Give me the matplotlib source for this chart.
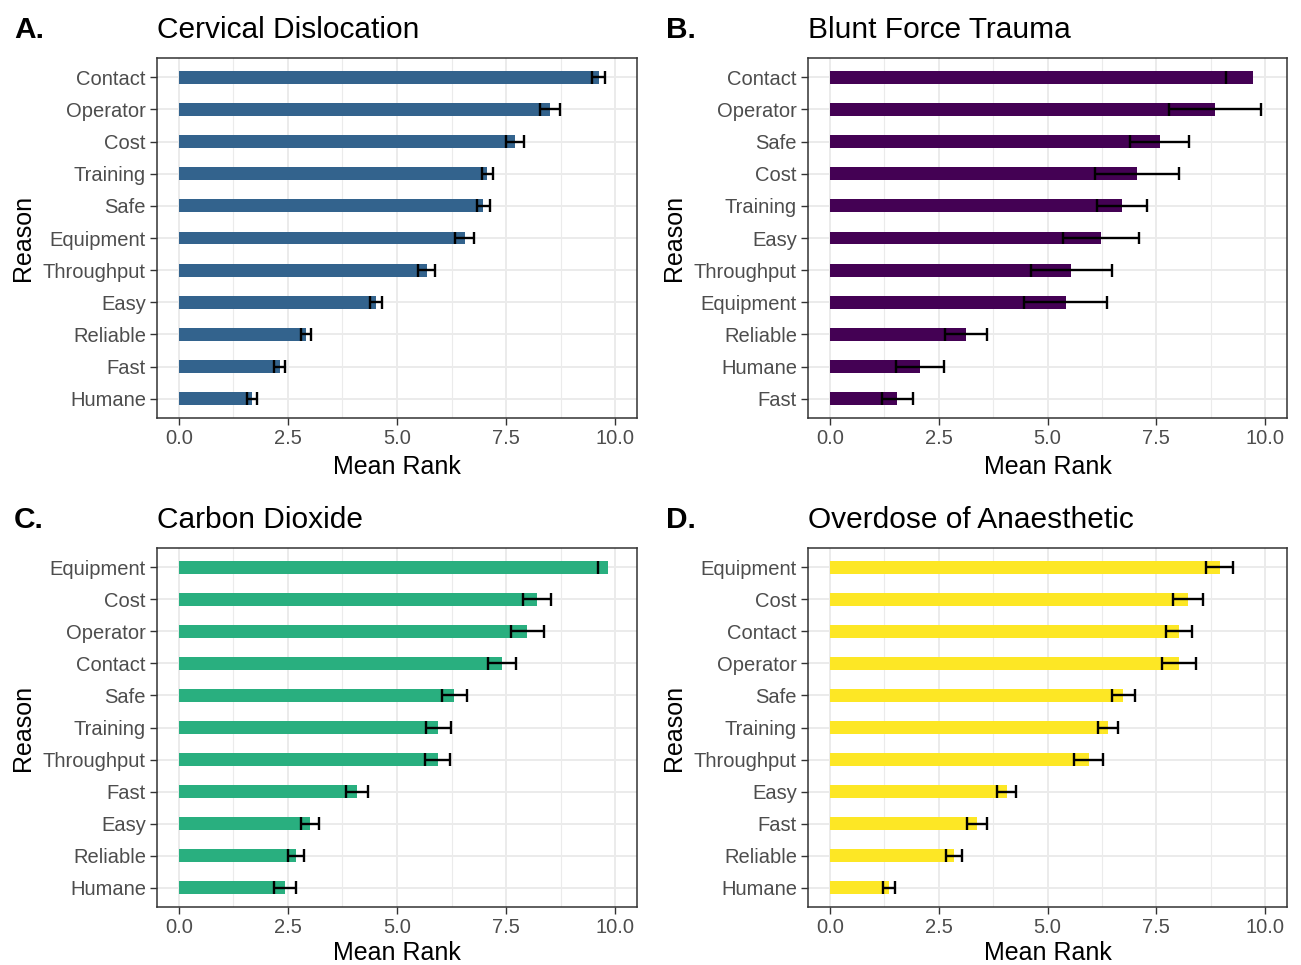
import matplotlib
matplotlib.use("Agg")
import matplotlib.pyplot as plt
import numpy as np

plt.rcParams['font.family'] = ['Liberation Sans', 'DejaVu Sans']

# panel A - cervical dislocation (top to bottom)
cd_reasons = ["Contact", "Operator", "Cost", "Training", "Safe", "Equipment",
              "Throughput", "Easy", "Reliable", "Fast", "Humane"]
cd_mean = [9.62, 8.50, 7.71, 7.07, 6.98, 6.55, 5.68, 4.52, 2.92, 2.31, 1.68]
cd_se = [0.14, 0.23, 0.21, 0.13, 0.15, 0.22, 0.19, 0.13, 0.11, 0.12, 0.12]

# panel B - blunt force trauma
bft_reasons = ["Contact", "Operator", "Safe", "Cost", "Training", "Easy",
               "Throughput", "Equipment", "Reliable", "Humane", "Fast"]
bft_mean = [9.71, 8.85, 7.58, 7.06, 6.71, 6.23, 5.55, 5.42, 3.12, 2.08, 1.55]
bft_se = [0.62, 1.05, 0.68, 0.96, 0.58, 0.88, 0.94, 0.95, 0.48, 0.55, 0.36]

# panel C - carbon dioxide
co2_reasons = ["Equipment", "Cost", "Operator", "Contact", "Safe", "Training",
               "Throughput", "Fast", "Easy", "Reliable", "Humane"]
co2_mean = [9.83, 8.21, 7.99, 7.41, 6.31, 5.95, 5.93, 4.08, 3.01, 2.69, 2.43]
co2_se = [0.23, 0.32, 0.37, 0.32, 0.29, 0.28, 0.29, 0.26, 0.21, 0.18, 0.26]

# panel D - overdose of anaesthetic
oa_reasons = ["Equipment", "Cost", "Contact", "Operator", "Safe", "Training",
              "Throughput", "Easy", "Fast", "Reliable", "Humane"]
oa_mean = [8.95, 8.23, 8.02, 8.01, 6.74, 6.38, 5.95, 4.06, 3.38, 2.86, 1.36]
oa_se = [0.30, 0.35, 0.30, 0.39, 0.27, 0.23, 0.33, 0.22, 0.22, 0.18, 0.13]

panels = [
    ("A.", "Cervical Dislocation", cd_reasons, cd_mean, cd_se, "#33638D"),
    ("B.", "Blunt Force Trauma", bft_reasons, bft_mean, bft_se, "#440154"),
    ("C.", "Carbon Dioxide", co2_reasons, co2_mean, co2_se, "#29AF7F"),
    ("D.", "Overdose of Anaesthetic", oa_reasons, oa_mean, oa_se, "#FDE725"),
]

W, H = 1301, 965
fig = plt.figure(figsize=(W / 100, H / 100), dpi=100)

# axes boxes in pixels: left, top, right, bottom
boxes = [(157, 58, 637, 418), (808, 58, 1287, 418),
         (157, 548, 637, 907), (808, 548, 1287, 907)]

for (tag, title, reasons, mean, se, color), (l, t, r, b) in zip(panels, boxes):
    ax = fig.add_axes([l / W, 1 - b / H, (r - l) / W, (b - t) / H])
    n = len(reasons)
    y = np.arange(n)[::-1] + 1
    mean = np.array(mean)
    se = np.array(se)
    lo = mean - se
    hi = mean + se

    ax.barh(y, mean, height=0.4, color=color, zorder=2)
    # upper ends past 10 fall outside the scale, only the lower cap is left
    ok = hi <= 10
    ax.hlines(y[ok], lo[ok], hi[ok], color="black", lw=1.7, zorder=3)
    ax.vlines(lo, y - 0.2, y + 0.2, color="black", lw=1.7, zorder=3)
    ax.vlines(hi[ok], y[ok] - 0.2, y[ok] + 0.2, color="black", lw=1.7, zorder=3)

    ax.set_xlim(-0.5, 10.5)
    ax.set_ylim(0.4, n + 0.6)
    ax.set_xticks([0, 2.5, 5, 7.5, 10])
    ax.set_xticklabels(["0.0", "2.5", "5.0", "7.5", "10.0"])
    ax.set_xticks([1.25, 3.75, 6.25, 8.75], minor=True)
    ax.set_yticks(y)
    ax.set_yticklabels(reasons)
    ax.grid(which="major", color="#EBEBEB", lw=1.4, zorder=0)
    ax.grid(which="minor", axis="x", color="#EBEBEB", lw=0.8, zorder=0)
    ax.set_axisbelow(True)
    ax.tick_params(which="major", length=5, width=1, color="#333333",
                   labelsize=14.5, labelcolor="#4D4D4D", pad=3)
    ax.tick_params(which="minor", length=0)
    for s in ax.spines.values():
        s.set_color("#333333")
        s.set_linewidth(1.1)
    ax.set_xlabel("Mean Rank", fontsize=18, labelpad=5 if t < 100 else 3)
    ax.set_ylabel("Reason", fontsize=18, labelpad=6)

    base = 1 - 38 / H if t < 100 else 1 - 528 / H
    fig.text(l / W, base, title, fontsize=21.5, ha="left", va="baseline")
    tag_x = 14 if l < 400 else 666
    fig.text(tag_x / W, base, tag, fontsize=21.5, fontweight="bold",
             ha="left", va="baseline")

fig.savefig("out.png", dpi=100, facecolor="white")
